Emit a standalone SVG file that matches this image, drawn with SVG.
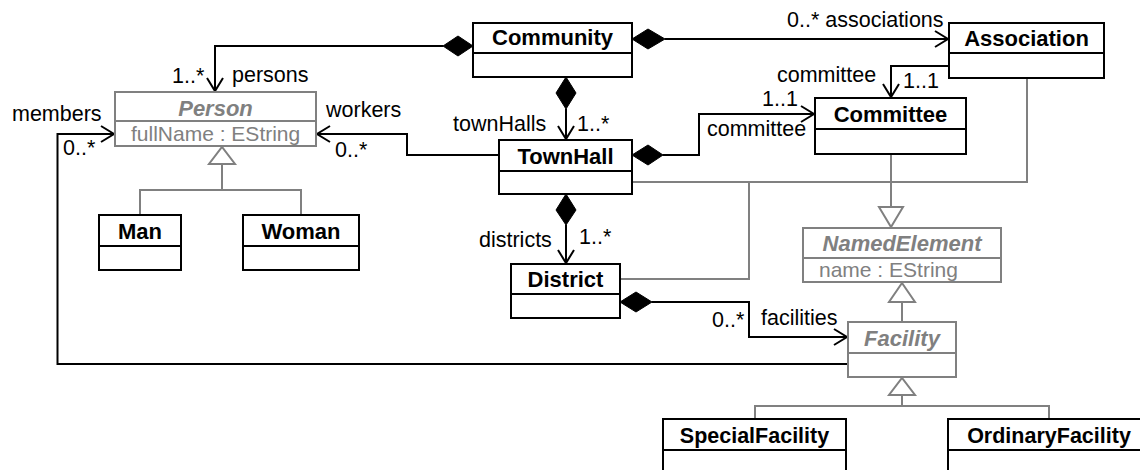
<svg xmlns="http://www.w3.org/2000/svg" width="1140" height="470" viewBox="0 0 1140 470">
<style>
text{font-family:"Liberation Sans",Arial,sans-serif;}
.t{font-size:22px;font-weight:bold;fill:#000;text-anchor:middle;}
.ta{font-size:22px;font-weight:bold;font-style:italic;fill:#808080;text-anchor:middle;}
.at{font-size:21px;fill:#808080;}
.l{font-size:21.5px;fill:#000;}
.box{fill:#fff;stroke:#000;stroke-width:2;}
.gbox{fill:#fff;stroke:#808080;stroke-width:2;}
.dv{stroke:#000;stroke-width:2;}
.gdv{stroke:#808080;stroke-width:2;}
.as{fill:none;stroke:#000;stroke-width:2;}
.ge{fill:none;stroke:#808080;stroke-width:2;}
.dm{fill:#000;stroke:#000;stroke-width:1;}
.tri{fill:#fff;stroke:#808080;stroke-width:2;}
.ah{fill:none;stroke:#000;stroke-width:2;}
</style>
<g id="connectors">
  <!-- persons -->
  <polyline class="as" points="443,46 215,46 215,91"/>
  <polygon class="dm" points="443,46 458,36 473,46 458,56"/>
  <polyline class="ah" points="207,78 215,91 223,78"/>
  <!-- associations -->
  <polyline class="as" points="665,39 948,39"/>
  <polygon class="dm" points="632,39 648,29 665,39 648,49"/>
  <polyline class="ah" points="935,31 948,39 935,47"/>
  <!-- townHalls -->
  <polyline class="as" points="566,109 566,139"/>
  <polygon class="dm" points="566,77 576,93 566,109 556,93"/>
  <polyline class="ah" points="558,126 566,139 574,126"/>
  <!-- committee from Association -->
  <polyline class="as" points="949,66 891,66 891,97"/>
  <polyline class="ah" points="883,84 891,97 899,84"/>
  <!-- committee from TownHall -->
  <polyline class="as" points="663,155 699,155 699,114 814,114"/>
  <polygon class="dm" points="632,155 648,145 663,155 648,165"/>
  <polyline class="ah" points="801,106 814,114 801,122"/>
  <!-- workers -->
  <polyline class="as" points="499,155 407,155 407,134 317,134"/>
  <polyline class="ah" points="330,126 317,134 330,142"/>
  <!-- districts -->
  <polyline class="as" points="566,225 566,263"/>
  <polygon class="dm" points="566,194 576,210 566,225 556,210"/>
  <polyline class="ah" points="558,250 566,263 574,250"/>
  <!-- facilities -->
  <polyline class="as" points="652,302 749,302 749,337 847,337"/>
  <polygon class="dm" points="620,302 636,292 652,302 636,312"/>
  <polyline class="ah" points="834,329 847,337 834,345"/>
  <!-- members -->
  <polyline class="as" points="848,364 57.5,364 57.5,134 114,134"/>
  <polyline class="ah" points="101,126 114,134 101,142"/>
  <!-- generalizations -->
  <polyline class="ge" points="632,182 1027,182 1027,78"/>
  <polyline class="ge" points="620,279 749,279 749,182"/>
  <polyline class="ge" points="891,154 891,207"/>
  <polygon class="tri" points="879,207 903,207 891,227"/>
  <polyline class="ge" points="902,322 902,302"/>
  <polygon class="tri" points="889,302 915,302 902,283"/>
  <polyline class="ge" points="755,419 755,406 1049,406 1049,419"/>
  <polyline class="ge" points="902,406 902,395"/>
  <polygon class="tri" points="889,395 915,395 902,378"/>
  <polyline class="ge" points="140,215 140,190 301,190 301,215"/>
  <polyline class="ge" points="222,190 222,164"/>
  <polygon class="tri" points="209,164 235,164 222,147"/>
  <!-- labels -->
  <text class="l" x="172" y="83">1..*</text>
  <text class="l" x="232" y="82">persons</text>
  <text class="l" x="12" y="121">members</text>
  <text class="l" x="63" y="155">0..*</text>
  <text class="l" x="326" y="117">workers</text>
  <text class="l" x="335" y="157">0..*</text>
  <text class="l" x="453" y="131">townHalls</text>
  <text class="l" x="577" y="131">1..*</text>
  <text class="l" x="787" y="27">0..* associations</text>
  <text class="l" x="777" y="82">committee</text>
  <text class="l" x="903" y="88">1..1</text>
  <text class="l" x="762" y="106">1..1</text>
  <text class="l" x="707" y="136">committee</text>
  <text class="l" x="479" y="247">districts</text>
  <text class="l" x="579" y="244">1..*</text>
  <text class="l" x="712" y="327">0..*</text>
  <text class="l" x="761" y="325">facilities</text>
</g>
<g id="Community">
  <rect class="box" x="473" y="23" width="159" height="54"/>
  <line class="dv" x1="473" y1="53" x2="632" y2="53"/>
  <text class="t" x="552.5" y="45">Community</text>
</g>
<g id="Association">
  <rect class="box" x="949" y="23" width="155" height="55"/>
  <line class="dv" x1="949" y1="53" x2="1104" y2="53"/>
  <text class="t" x="1026.5" y="46">Association</text>
</g>
<g id="Person">
  <rect class="gbox" x="115" y="92" width="201" height="54"/>
  <line class="gdv" x1="115" y1="121" x2="316" y2="121"/>
  <text class="ta" x="215.5" y="116">Person</text>
  <text class="at" x="131" y="141">fullName : EString</text>
</g>
<g id="Committee">
  <rect class="box" x="815" y="98" width="151" height="56"/>
  <line class="dv" x1="815" y1="129" x2="966" y2="129"/>
  <text class="t" x="890.5" y="122">Committee</text>
</g>
<g id="TownHall">
  <rect class="box" x="499" y="140" width="133" height="54"/>
  <line class="dv" x1="499" y1="171" x2="632" y2="171"/>
  <text class="t" x="565.5" y="164">TownHall</text>
</g>
<g id="Man">
  <rect class="box" x="99" y="215" width="82" height="55"/>
  <line class="dv" x1="99" y1="246" x2="181" y2="246"/>
  <text class="t" x="140" y="239">Man</text>
</g>
<g id="Woman">
  <rect class="box" x="243" y="215" width="116" height="55"/>
  <line class="dv" x1="243" y1="246" x2="359" y2="246"/>
  <text class="t" x="301" y="239">Woman</text>
</g>
<g id="NamedElement">
  <rect class="gbox" x="803" y="228" width="198" height="54"/>
  <line class="gdv" x1="803" y1="258" x2="1001" y2="258"/>
  <text class="ta" x="902" y="251">NamedElement</text>
  <text class="at" x="819" y="277">name : EString</text>
</g>
<g id="District">
  <rect class="box" x="511" y="264" width="109" height="54"/>
  <line class="dv" x1="511" y1="294" x2="620" y2="294"/>
  <text class="t" x="565.5" y="287">District</text>
</g>
<g id="Facility">
  <rect class="gbox" x="848" y="322" width="108" height="55"/>
  <line class="gdv" x1="848" y1="353" x2="956" y2="353"/>
  <text class="ta" x="902" y="346">Facility</text>
</g>
<g id="SpecialFacility">
  <rect class="box" x="663" y="419" width="183" height="70"/>
  <line class="dv" x1="663" y1="450" x2="846" y2="450"/>
  <text class="t" x="754.5" y="443" style="font-size:21.5px">SpecialFacility</text>
</g>
<g id="OrdinaryFacility">
  <rect class="box" x="948" y="419" width="202" height="70"/>
  <line class="dv" x1="948" y1="450" x2="1150" y2="450"/>
  <text class="t" x="1049" y="443" style="font-size:21.5px">OrdinaryFacility</text>
</g>
</svg>
